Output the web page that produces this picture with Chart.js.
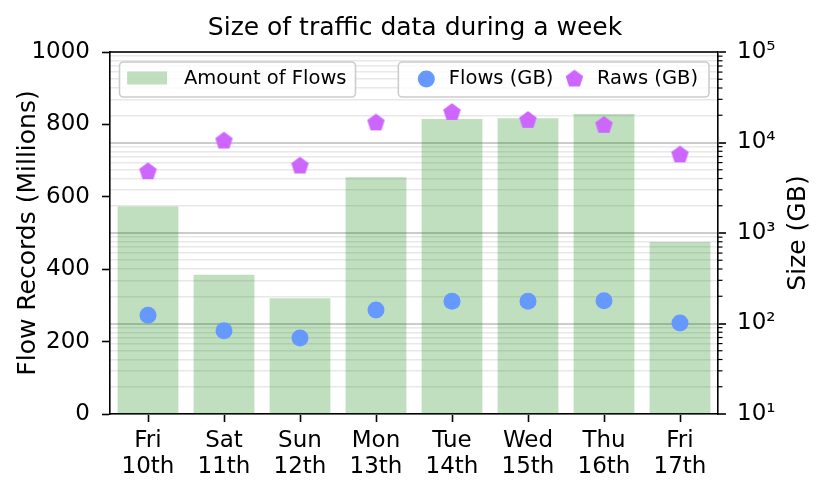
<!DOCTYPE html>
<html>
<head>
<meta charset="utf-8">
<script src="https://cdn.jsdelivr.net/npm/chart.js@4.4.1/dist/chart.umd.min.js"></script>
<style>
  html, body { margin: 0; padding: 0; background: #fff; }
  canvas { display: block; }
</style>
</head>
<body>
<canvas id="chart" width="830" height="497"></canvas>
<script>
const days = [["Fri", "10th"], ["Sat", "11th"], ["Sun", "12th"], ["Mon", "13th"],
              ["Tue", "14th"], ["Wed", "15th"], ["Thu", "16th"], ["Fri", "17th"]];
const flowRecords = [573, 385, 320, 654, 815, 817, 829, 475];
const flowsGB = [123, 83, 69, 141, 176, 176, 178, 101];
const rawsGB = [4760, 10400, 5500, 16500, 21500, 17600, 15500, 7300];
const recordTicks = [0, 200, 400, 600, 800, 1000];
const sizeTicks = [10, 100, 1000, 10000, 100000];
const sizeTickLabels = ["10¹", "10²", "10³", "10⁴", "10⁵"];

const FONT = "'DejaVu Sans', sans-serif";
Chart.defaults.font.family = FONT;
Chart.defaults.color = "#000";

const barColor = "rgba(0, 128, 0, 0.25)";
const flowColor = "#6699ff";
const rawColor = "#cc66ff";

// matplotlib-like pentagon marker, drawn once on a small canvas
function makePentagon(color, r) {
  const size = Math.ceil(r * 2) + 2;
  const c = document.createElement("canvas");
  c.width = c.height = size;
  const g = c.getContext("2d");
  g.fillStyle = color;
  g.beginPath();
  for (let k = 0; k < 5; k++) {
    const a = -Math.PI / 2 + (k * 2 * Math.PI) / 5;
    const px = size / 2 + r * Math.cos(a);
    const py = size / 2 + r * Math.sin(a);
    if (k === 0) g.moveTo(px, py);
    else g.lineTo(px, py);
  }
  g.closePath();
  g.fill();
  return c;
}
const pentagon = makePentagon(rawColor, 9.2);

// log axis ticks: decades are major, 2..9 in between are minor
const sizeAllTicks = [];
sizeTicks.forEach((v, i) => {
  sizeAllTicks.push({ value: v, major: true });
  if (i < sizeTicks.length - 1) {
    for (let m = 2; m < 10; m++) sizeAllTicks.push({ value: v * m, major: false });
  }
});

function legendBox(ctx, x, y, w, h) {
  ctx.beginPath();
  ctx.roundRect(x, y, w, h, 4);
  ctx.fillStyle = "rgba(255,255,255,0.8)";
  ctx.fill();
  ctx.strokeStyle = "#cccccc";
  ctx.lineWidth = 1.6;
  ctx.stroke();
}

function drawMarker(ctx, ds, x, y) {
  if (ds.pointStyle === "circle") {
    ctx.beginPath();
    ctx.arc(x, y, ds.pointRadius, 0, Math.PI * 2);
    ctx.fillStyle = ds.pointBackgroundColor;
    ctx.fill();
  } else {
    const s = ds.pointStyle;
    ctx.drawImage(s, x - s.width / 2, y - s.height / 2);
  }
}

function drawLegends(chart) {
  const { ctx, chartArea: a } = chart;
  const [bars, flows, raws] = chart.data.datasets;
  const top = a.top + 10;
  const h = 35;
  ctx.save();
  ctx.font = "19.5px " + FONT;
  ctx.textBaseline = "alphabetic";
  ctx.textAlign = "left";

  // left legend: bars
  let x = a.left + 9.5;
  let w = 64.5 + ctx.measureText(bars.label).width + 9;
  legendBox(ctx, x, top, w, h);
  ctx.fillStyle = bars.backgroundColor;
  ctx.fillRect(x + 7.6, top + 9.5, 40, 13);
  ctx.fillStyle = "#000";
  ctx.fillText(bars.label, x + 64.5, top + 22.3);

  // right legend: the two marker series
  const items = [flows, raws];
  w = 8 + 11;
  items.forEach((ds, i) => { w += 42.5 + ctx.measureText(ds.label).width + (i ? 1 : 0); });
  x = a.right - 9 - w;
  legendBox(ctx, x, top, w, h);
  let cx = x + 8;
  items.forEach((ds) => {
    drawMarker(ctx, ds, cx + 20, top + 17);
    ctx.fillStyle = "#000";
    ctx.fillText(ds.label, cx + 42.5, top + 22.3);
    cx += 42.5 + ctx.measureText(ds.label).width + 1;
  });
  ctx.restore();
}

const frame = {
  id: "frame",
  afterDraw(chart) {
    const { ctx, chartArea: a, scales } = chart;
    ctx.save();
    ctx.strokeStyle = "#000";
    ctx.lineWidth = 1.6;
    ctx.beginPath();
    ctx.moveTo(a.left, a.top);
    ctx.lineTo(a.right, a.top);
    ctx.stroke();

    // short minor ticks on the log axis
    const y2 = scales.y2;
    ctx.lineWidth = 1.2;
    y2.ticks.forEach((t) => {
      if (t.major) return;
      const py = y2.getPixelForValue(t.value);
      ctx.beginPath();
      ctx.moveTo(a.right, py);
      ctx.lineTo(a.right + 4.5, py);
      ctx.stroke();
    });

    // right axis title reads bottom to top
    ctx.font = "25px " + FONT;
    ctx.fillStyle = "#000";
    ctx.textAlign = "center";
    ctx.textBaseline = "middle";
    ctx.translate(a.right + 80, (a.top + a.bottom) / 2);
    ctx.rotate(-Math.PI / 2);
    ctx.fillText("Size (GB)", 0, 0);
    ctx.restore();

    drawLegends(chart);
  },
};

new Chart(document.getElementById("chart"), {
  data: {
    labels: days,
    datasets: [
      {
        type: "bar",
        label: "Amount of Flows",
        data: flowRecords,
        backgroundColor: barColor,
        borderWidth: 0,
        barPercentage: 0.8,
        categoryPercentage: 1.0,
        yAxisID: "y",
        order: 2,
      },
      {
        type: "line",
        label: "Flows (GB)",
        data: flowsGB,
        showLine: false,
        pointStyle: "circle",
        pointRadius: 8.5,
        pointBorderWidth: 0,
        pointBackgroundColor: flowColor,
        yAxisID: "y2",
        order: 1,
      },
      {
        type: "line",
        label: "Raws (GB)",
        data: rawsGB,
        showLine: false,
        pointStyle: pentagon,
        pointRadius: 9,
        pointBorderWidth: 0,
        pointBackgroundColor: rawColor,
        yAxisID: "y2",
        order: 1,
      },
    ],
  },
  options: {
    responsive: false,
    animation: false,
    events: [],
    layout: { padding: 0 },
    plugins: {
      legend: { display: false },
      tooltip: { enabled: false },
      title: {
        display: true,
        text: "Size of traffic data during a week",
        color: "#000",
        font: { size: 25, weight: "normal" },
        padding: { top: 13, bottom: 9 },
      },
    },
    scales: {
      x: {
        type: "category",
        offset: true,
        afterFit: (s) => { s.height = 83; },
        grid: { offset: false, drawOnChartArea: false, tickLength: 8, tickColor: "#000", tickWidth: 1.6 },
        border: { color: "#000", width: 1.6 },
        ticks: { font: { size: 23, lineHeight: 1.12 }, padding: 6, maxRotation: 0, autoSkip: false },
      },
      y: {
        type: "linear",
        position: "left",
        min: 0,
        max: 1000,
        afterBuildTicks: (s) => { s.ticks = recordTicks.map((v) => ({ value: v })); },
        afterFit: (s) => { s.width = 110; },
        grid: { drawOnChartArea: false, tickLength: 8, tickColor: "#000", tickWidth: 1.6 },
        border: { color: "#000", width: 1.6 },
        ticks: { font: { size: 23 }, padding: 12, callback: (v) => String(v) },
        title: {
          display: true,
          text: "Flow Records (Millions)",
          font: { size: 25 },
          padding: { top: 13, bottom: 0 },
        },
      },
      y2: {
        type: "logarithmic",
        position: "right",
        min: 10,
        max: 100000,
        afterBuildTicks: (s) => { s.ticks = sizeAllTicks.map((t) => ({ ...t })); },
        afterFit: (s) => { s.width = 112; },
        grid: {
          color: (c) => (c.tick && c.tick.major ? "#cccccc" : "#e8e8e8"),
          lineWidth: (c) => (c.tick && c.tick.major ? 2 : 1.5),
          tickColor: (c) => (c.tick && c.tick.major ? "#000" : "rgba(0,0,0,0)"),
          tickLength: 8,
          tickWidth: 1.6,
        },
        border: { color: "#000", width: 1.6 },
        ticks: {
          font: { size: 23 },
          padding: 11,
          autoSkip: false,
          callback: (v) => {
            const i = sizeTicks.indexOf(v);
            return i >= 0 ? sizeTickLabels[i] : "";
          },
        },
      },
    },
  },
  plugins: [frame],
});
</script>
</body>
</html>
